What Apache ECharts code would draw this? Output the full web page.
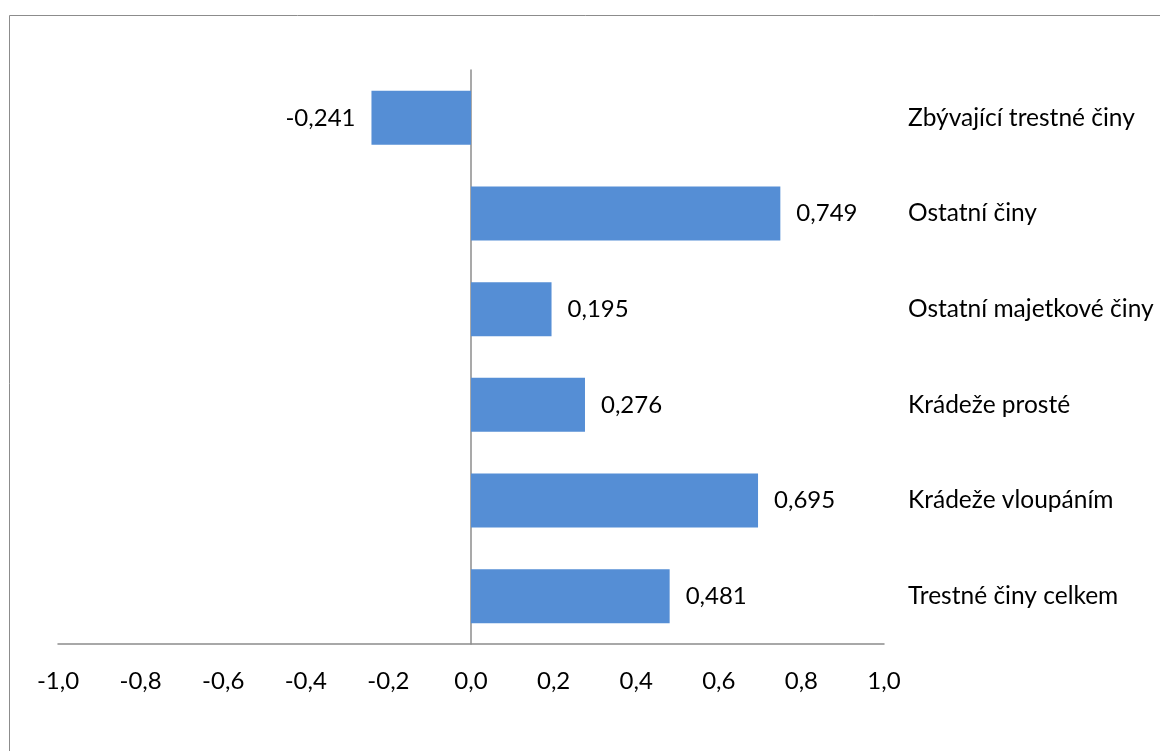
<!DOCTYPE html>
<html><head><meta charset="utf-8">
<script src="https://cdn.jsdelivr.net/npm/echarts@6/dist/echarts.min.js"></script>
<style>html,body{margin:0;padding:0;background:#fff}#c{width:1160px;height:751px}</style>
</head><body><div id="c"></div>
<script>
const categories = ['Trestné činy celkem','Krádeže vloupáním','Krádeže prosté','Ostatní majetkové činy','Ostatní činy','Zbývající trestné činy'];
const values = [0.481, 0.695, 0.276, 0.195, 0.749, -0.241];
const xTicks = [-1.0,-0.8,-0.6,-0.4,-0.2,0.0,0.2,0.4,0.6,0.8,1.0];

const FONT = 'Lato';
const chart = echarts.init(document.getElementById('c'), null, {renderer:'canvas'});
chart.setOption({
  animation:false,
  backgroundColor:'#fff',
  graphic:[{type:'rect',shape:{x:9.5,y:15.5,width:1300,height:900},style:{fill:'none',stroke:'#8c8c8c',lineWidth:1}}],
  grid:{left:58,right:276,top:70,bottom:107},
  xAxis:{type:'value',min:-1,max:1,interval:0.2,
    axisLine:{show:true,onZero:false,lineStyle:{color:'#8c8c8c',width:1.5}},
    axisTick:{show:false},splitLine:{show:false},
    axisLabel:{margin:25,color:'#000',fontFamily:FONT,fontSize:24,
      formatter:v=>{const t=xTicks.find(x=>Math.abs(x-v)<1e-9);return (t!==undefined?t:v).toFixed(1).replace('.',',');}}},
  yAxis:[
    {type:'category',data:categories,position:'left',
      axisLine:{show:true,onZero:true,lineStyle:{color:'#8c8c8c',width:1.5}},
      axisTick:{show:false},axisLabel:{show:false}},
    {type:'category',data:categories,position:'right',
      axisLine:{show:false},axisTick:{show:false},
      axisLabel:{show:true,margin:24,align:'left',color:'#000',fontFamily:FONT,fontSize:24.5}}
  ],
  series:[{type:'bar',yAxisIndex:0,barWidth:54,
    data:values.map(v=>({value:v,label:{position:v<0?'left':'right'}})),
    itemStyle:{color:'#558ed5'},
    label:{show:true,distance:16,color:'#000',fontFamily:FONT,fontSize:24,
      formatter:p=>p.value.toFixed(3).replace('.',',')}}]
});
</script></body></html>
